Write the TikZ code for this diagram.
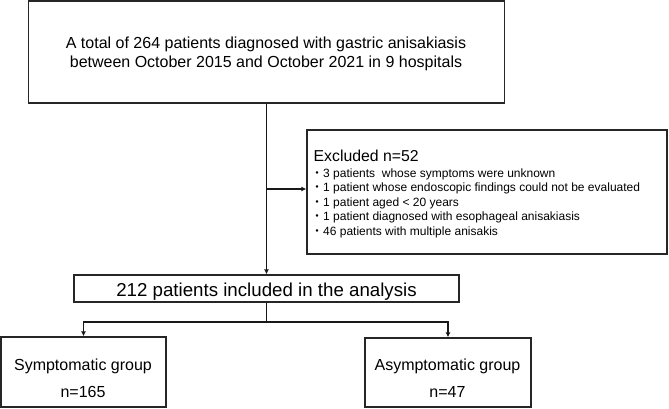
\documentclass[tikz,border=0pt]{standalone}
\usepackage{fontspec}
\setmainfont{Liberation Sans}
\newfontfamily\cjk{Noto Sans CJK JP}
\usetikzlibrary{arrows.meta}
\newcommand\fsz[2]{\fontsize{#1}{#2}\selectfont}
\begin{document}
\begin{tikzpicture}[x=1pt,y=-1pt,
  box/.style={draw=black!85, line width=1.3pt, rectangle, inner sep=0pt},
  conn/.style={line width=1.2pt, draw=black!90},
  arr/.style={conn, -{Latex[length=5pt,width=5pt]}},
  lbl/.style={inner sep=0pt, anchor=base},
  lbll/.style={inner sep=0pt, anchor=base west}]
\useasboundingbox (0,0) rectangle (669,408);

% boxes
\node[box, minimum width=476, minimum height=102] (top) at (266.5,52) {};
\node[box, minimum width=360, minimum height=124] (excl) at (487,192) {};
\node[box, minimum width=385, minimum height=27] (inc) at (266.5,288.5) {};
\node[box, minimum width=165, minimum height=70] (sym) at (83.5,372) {};
\node[box, minimum width=166, minimum height=69] (asym) at (448,372.5) {};

% texts
\node[lbl, font=\fsz{16}{19}] (t1) at (266,48.5) {A total of 264 patients diagnosed with gastric anisakiasis};
\node[lbl, font=\fsz{16}{19}] (t2) at (266,67.8) {between October 2015 and October 2021 in 9 hospitals};

\node[lbll, font=\fsz{15.8}{18}] (exh) at (313.5,161.5) {Excluded n=52};
\node[lbll, font=\fsz{12}{14}] (ex1) at (311,177.4) {{\cjk ・}3 patients~ whose symptoms were unknown};
\node[lbll, font=\fsz{12}{14}] (ex2) at (311,191.9) {{\cjk ・}1 patient whose endoscopic findings could not be evaluated};
\node[lbll, font=\fsz{12}{14}] (ex3) at (311,206.4) {{\cjk ・}1 patient aged < 20 years};
\node[lbll, font=\fsz{12}{14}] (ex4) at (311,220.9) {{\cjk ・}1 patient diagnosed with esophageal anisakiasis};
\node[lbll, font=\fsz{12}{14}] (ex5) at (311,235.4) {{\cjk ・}46 patients with multiple anisakis};

\node[lbl, font=\fsz{18.7}{22}] (inct) at (266.5,296) {212 patients included in the analysis};

\node[lbl, font=\fsz{16}{19}] (s1) at (83,370.7) {Symptomatic group};
\node[lbl, font=\fsz{16}{19}] (s2) at (83,397) {n=165};
\node[lbl, font=\fsz{16}{19}] (a1) at (447.5,370.7) {Asymptomatic group};
\node[lbl, font=\fsz{16}{19}] (a2) at (447.5,397) {n=47};

% connectors
\coordinate (ej) at (266.5,189);
\coordinate (split) at (266.5,322);
\draw[arr] (top.south) -- (inc.north);
\draw[arr] (ej) -- (ej -| excl.west);
\draw[conn] (inc.south) -- (split);
\draw[arr] (split) -| (sym.north);
\draw[arr] (split) -| (asym.north);
\end{tikzpicture}
\end{document}
